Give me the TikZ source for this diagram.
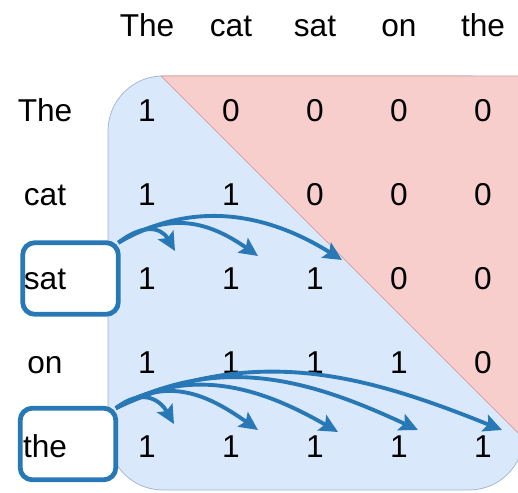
\documentclass[tikz,border=0pt]{standalone}
\usepackage{fontspec}
\setmainfont{Liberation Sans}
\usetikzlibrary{arrows.meta}
\definecolor{lowfill}{HTML}{DAE8FC}
\definecolor{lowline}{HTML}{9DB2D2}
\definecolor{upfill}{HTML}{F8CECC}
\definecolor{upline}{HTML}{D99A98}
\definecolor{attnblue}{HTML}{2878B6}

\begin{document}
\begin{tikzpicture}[x=0.02cm, y=-0.02cm,
  word/.style={font=\fontsize{18}{20}\selectfont, anchor=base, inner sep=1pt},
  wordbox/.style={fill=white, rounded corners=7pt, minimum width=1.9cm, minimum height=1.42cm, inner sep=0pt},
  wordframe/.style={draw=attnblue, line width=2.7pt, rounded corners=7pt},
  attn/.style={draw=attnblue, line width=2.2pt, -{Stealth[length=10.5pt,width=10pt,inset=2pt]}}]
  \clip (0,0) rectangle (518,493);

  % mask: lower part and upper part
  \filldraw[fill=lowfill, draw=lowline, rounded corners=1.1cm] (108,76) rectangle (524,490);
  \filldraw[fill=upfill, draw=upline] (161,76) -- (530,76) -- (530,445) -- cycle;

  % boxes behind the words
  \node[wordbox] (satbox) at (70.5,278.5) {};
  \node[wordbox] (thebox) at (68,444) {};

  % words and mask values
  \foreach \w [count=\j] in {The,cat,sat,on,the}
    \node[word] (c\j) at ({147+84*(\j-1)},37) {\w};
  \foreach \w [count=\i] in {The,cat,sat,on,the}
    \node[word] (r\i) at (45,{122+84*(\i-1)}) {\w};
  \foreach \i in {1,...,5}
    \foreach \j in {1,...,5} {
      \pgfmathtruncatemacro\v{\j<=\i}
      \node[word] (m-\i-\j) at ({147+84*(\j-1)},{122+84*(\i-1)}) {\v};
    }

  \draw[wordframe] (satbox.north west) rectangle (satbox.south east);
  \draw[wordframe] (thebox.north west) rectangle (thebox.south east);

  % arrow tips
  \coordinate (s1) at (175,251);
  \coordinate (s2) at (258,256);
  \coordinate (s3) at (342,260);
  \coordinate (t1) at (174,424);
  \coordinate (t2) at (258,430);
  \coordinate (t3) at (338,432);
  \coordinate (t4) at (418,430);
  \coordinate (t5) at (502,430);

  \draw[attn] (satbox.north east) to[out=38,in=120,looseness=1.3] (s1);
  \draw[attn] (satbox.north east) to[out=32,in=145,looseness=1.1] (s2);
  \draw[attn] (satbox.north east) to[out=30,in=148] (s3);

  \draw[attn] (thebox.north east) to[out=38,in=120,looseness=1.3] (t1);
  \draw[attn] (thebox.north east) to[out=32,in=145,looseness=1.1] (t2);
  \draw[attn] (thebox.north east) to[out=30,in=150] (t3);
  \draw[attn] (thebox.north east) to[out=28,in=155] (t4);
  \draw[attn] (thebox.north east) to[out=25,in=158] (t5);
\end{tikzpicture}
\end{document}
